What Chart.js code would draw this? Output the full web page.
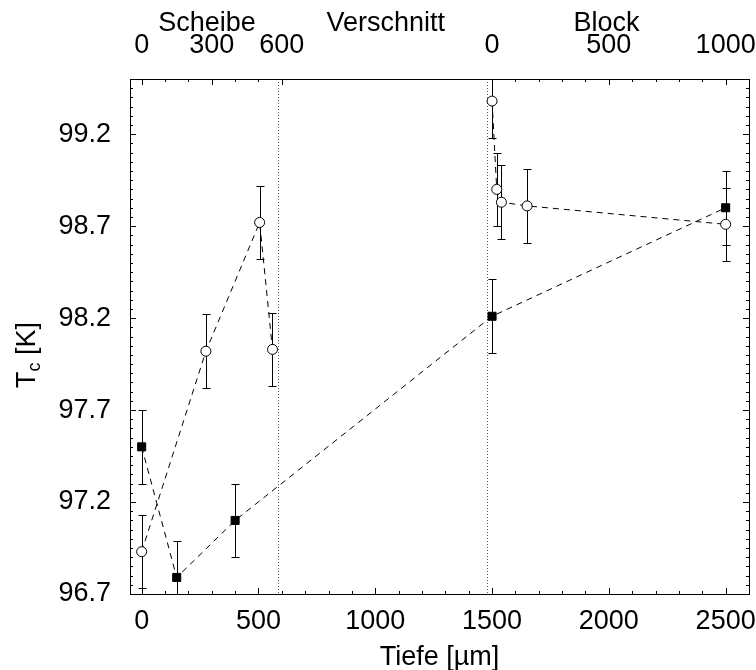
<!DOCTYPE html>
<html>
<head>
<meta charset="utf-8">
<script src="https://cdn.jsdelivr.net/npm/chart.js@4.4.1/dist/chart.umd.min.js"></script>
<style>
  html, body { margin: 0; padding: 0; background: #fff; }
  #wrap { width: 756px; height: 670px; }
</style>
</head>
<body>
<div id="wrap"><canvas id="tcChart"></canvas></div>
<script>
// Tiefe in µm; Block-Werte liegen bei 1500 + Blocktiefe
const scheibeTiefe = [0, 275, 505, 560];
const scheibeTc = [96.93, 98.02, 98.72, 98.03];
const scheibeFehler = [0.2, 0.2, 0.2, 0.2];

const blockTiefe = [1500, 1520, 1540, 1650, 2500];
const blockTc = [99.38, 98.9, 98.83, 98.81, 98.71];
const blockFehler = [0.2, 0.2, 0.2, 0.2, 0.2];

const quadratTiefe = [0, 150, 400, 1500, 2500];
const quadratTc = [97.5, 96.79, 97.1, 98.21, 98.8];
const quadratFehler = [0.2, 0.2, 0.2, 0.2, 0.2];

const xTicks = [0, 500, 1000, 1500, 2000, 2500];
const yTicks = [96.7, 97.2, 97.7, 98.2, 98.7, 99.2];
const obenWerte = [0, 300, 600, 1500, 2000, 2500];
const obenLabels = ['0', '300', '600', '0', '500', '1000'];
const bereichWerte = [280, 1045, 1990];
const bereichLabels = ['Scheibe', 'Verschnitt', 'Block'];
const trennlinien = [585, 1480];

const schrift = '"Liberation Sans", Arial, Helvetica, sans-serif';
const gross = { family: schrift, size: 27 };

function punkte(xs, ys) {
  return xs.map((v, i) => ({ x: v, y: ys[i] }));
}

function range(a, b, step) {
  const out = [];
  for (let v = a; v <= b + step / 2; v += step) out.push(+v.toFixed(3));
  return out;
}

// horizontale Achsen: kein automatischer Randausgleich fuer Randbeschriftungen
function ohneRand(s) {
  s.paddingLeft = 0;
  s.paddingRight = 0;
}

// Rahmen, Striche nach innen, Fehlerbalken, Trennlinien, Titel
const rahmen = {
  id: 'rahmen',
  beforeDatasetsDraw(chart) {
    const { ctx, chartArea: a, scales: { x, y } } = chart;
    ctx.save();
    ctx.strokeStyle = '#555';
    ctx.lineWidth = 1;
    ctx.setLineDash([1, 2]);
    trennlinien.forEach(v => {
      const px = Math.round(x.getPixelForValue(v)) + 0.5;
      ctx.beginPath();
      ctx.moveTo(px, a.top);
      ctx.lineTo(px, a.bottom);
      ctx.stroke();
    });
    ctx.setLineDash([]);

    ctx.beginPath();
    ctx.rect(a.left, a.top, a.right - a.left, a.bottom - a.top);
    ctx.clip();
    ctx.strokeStyle = '#000';
    chart.data.datasets.forEach(ds => {
      ds.data.forEach((p, i) => {
        const px = Math.round(x.getPixelForValue(p.x)) + 0.5;
        const yo = Math.round(y.getPixelForValue(p.y + ds.fehler[i])) + 0.5;
        const yu = Math.round(y.getPixelForValue(p.y - ds.fehler[i])) + 0.5;
        ctx.beginPath();
        ctx.moveTo(px, yo); ctx.lineTo(px, yu);
        ctx.moveTo(px - 4, yo); ctx.lineTo(px + 4, yo);
        ctx.moveTo(px - 4, yu); ctx.lineTo(px + 4, yu);
        ctx.stroke();
      });
    });
    ctx.restore();
  },
  afterDatasetsDraw(chart) {
    const { ctx, chartArea: a, scales: { x, y } } = chart;
    ctx.save();
    ctx.strokeStyle = '#000';
    ctx.lineWidth = 1;
    ctx.strokeRect(Math.round(a.left) + 0.5, Math.round(a.top) + 0.5,
      Math.round(a.right - a.left), Math.round(a.bottom - a.top));

    ctx.beginPath();
    // unten
    range(0, 2500, 100).forEach(v => {
      const px = Math.round(x.getPixelForValue(v)) + 0.5;
      const len = xTicks.includes(v) ? 6 : 3;
      ctx.moveTo(px, a.bottom); ctx.lineTo(px, a.bottom - len);
    });
    // oben: Scheibe und Block
    range(0, 600, 100).concat(range(1500, 2500, 100)).forEach(v => {
      const px = Math.round(x.getPixelForValue(v)) + 0.5;
      const len = obenWerte.includes(v) ? 6 : 3;
      ctx.moveTo(px, a.top); ctx.lineTo(px, a.top + len);
    });
    // links und rechts
    range(96.7, 99.5, 0.05).forEach(v => {
      const py = Math.round(y.getPixelForValue(v)) + 0.5;
      const len = yTicks.some(t => Math.abs(t - v) < 1e-6) ? 6 : 3;
      ctx.moveTo(a.left, py); ctx.lineTo(a.left + len, py);
      ctx.moveTo(a.right, py); ctx.lineTo(a.right - len, py);
    });
    ctx.stroke();

    // Bereichsnamen ueber der oberen Achse
    ctx.fillStyle = '#000';
    ctx.font = '27px ' + schrift;
    ctx.textAlign = 'center';
    ctx.textBaseline = 'middle';
    bereichWerte.forEach((v, i) => {
      ctx.fillText(bereichLabels[i], x.getPixelForValue(v), 24);
    });

    // T_c [K]
    ctx.textAlign = 'left';
    ctx.translate(28, 355);
    ctx.rotate(-Math.PI / 2);
    const wT = ctx.measureText('T').width;
    const wK = ctx.measureText(' [K]').width;
    ctx.font = '18px ' + schrift;
    const wc = ctx.measureText('c').width;
    const x0 = -(wT + wc + wK) / 2;
    ctx.font = '27px ' + schrift;
    ctx.fillText('T', x0, 0);
    ctx.font = '18px ' + schrift;
    ctx.fillText('c', x0 + wT, 7);
    ctx.font = '27px ' + schrift;
    ctx.fillText(' [K]', x0 + wT + wc, 0);
    ctx.restore();
  }
};

const linie = {
  showLine: true,
  borderColor: '#000',
  borderWidth: 1,
  borderDash: [6, 5],
  pointBorderColor: '#000',
  pointBorderWidth: 1
};

const ohneGitter = { display: false, drawTicks: false };

new Chart(document.getElementById('tcChart'), {
  type: 'scatter',
  data: {
    datasets: [
      Object.assign({ label: 'Scheibe', data: punkte(scheibeTiefe, scheibeTc), fehler: scheibeFehler,
        pointStyle: 'circle', pointRadius: 5, pointBackgroundColor: '#fff' }, linie),
      Object.assign({ label: 'Block', data: punkte(blockTiefe, blockTc), fehler: blockFehler,
        pointStyle: 'circle', pointRadius: 5, pointBackgroundColor: '#fff' }, linie),
      Object.assign({ label: 'Quadrate', data: punkte(quadratTiefe, quadratTc), fehler: quadratFehler,
        pointStyle: 'rect', pointRadius: 5.7, pointBackgroundColor: '#000' }, linie)
    ]
  },
  options: {
    responsive: true,
    maintainAspectRatio: false,
    animation: false,
    layout: { autoPadding: false, padding: { left: 0, right: 7, top: 0, bottom: 0 } },
    plugins: { legend: { display: false }, tooltip: { enabled: false } },
    scales: {
      x: {
        type: 'linear', position: 'bottom', min: -50, max: 2600,
        afterBuildTicks: s => { s.ticks = xTicks.map(v => ({ value: v })); },
        afterFit: s => { s.height = 76; ohneRand(s); },
        grid: ohneGitter, border: { display: false },
        ticks: { color: '#000', font: gross, padding: 11, maxRotation: 0, autoSkip: false,
          callback: v => String(v) },
        title: { display: true, text: 'Tiefe [µm]', color: '#000', font: gross,
          padding: { top: 0, bottom: -4 } }
      },
      y: {
        type: 'linear', position: 'left', min: 96.7, max: 99.5,
        afterBuildTicks: s => { s.ticks = yTicks.map(v => ({ value: v })); },
        afterFit: s => { s.width = 130; },
        grid: ohneGitter, border: { display: false },
        ticks: { color: '#000', font: gross, padding: 19, callback: v => v.toFixed(1) }
      },
      x2: {
        type: 'linear', position: 'top', min: -50, max: 2600,
        afterBuildTicks: s => { s.ticks = obenWerte.map(v => ({ value: v })); },
        afterFit: s => { s.height = 79; ohneRand(s); },
        grid: ohneGitter, border: { display: false },
        ticks: { color: '#000', font: gross, padding: 17, maxRotation: 0, autoSkip: false,
          callback: (v, i) => obenLabels[i] }
      }
    }
  },
  plugins: [rahmen]
});
</script>
</body>
</html>
